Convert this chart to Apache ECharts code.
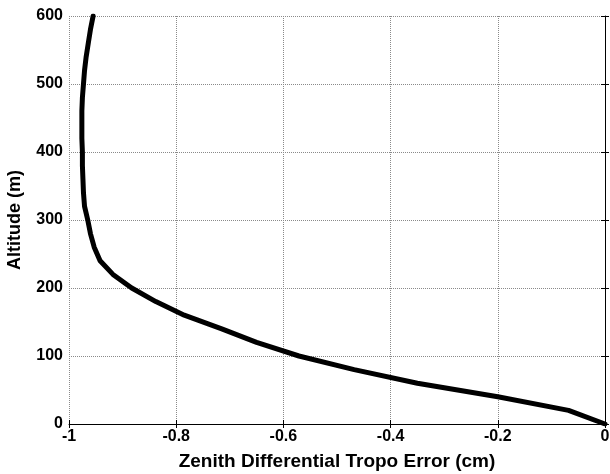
<!DOCTYPE html>
<html lang="en">
<head>
    <meta charset="utf-8">
    <title>Zenith Differential Tropo Error</title>
    <script type="text/javascript" src="https://cdn.jsdelivr.net/npm/echarts@6/dist/echarts.min.js"></script>
    <style>
        body { margin: 0; background: #fff; }
    </style>
</head>
<body>
<div id="main" style="width: 610px;height:474px;"></div>
<script>
    // altitude (m) and zenith differential tropo error (cm)
    var altitude = [0, 20, 40, 60, 80, 100, 120, 140, 160, 180, 200, 220, 240, 260, 280, 300,
        320, 340, 360, 380, 400, 420, 440, 460, 480, 500, 520, 540, 560, 580, 600];
    var tropoError = [0, -0.068, -0.2, -0.35, -0.468, -0.571, -0.65, -0.715, -0.785, -0.838, -0.883,
        -0.918, -0.942, -0.953, -0.96, -0.965, -0.971, -0.973, -0.974, -0.975, -0.975, -0.976,
        -0.976, -0.976, -0.975, -0.973, -0.971, -0.968, -0.964, -0.96, -0.955];
    var xTicks = [-1, -0.8, -0.6, -0.4, -0.2, 0];
    var yTicks = [0, 100, 200, 300, 400, 500, 600];

    var points = [];
    for (var i = 0; i < altitude.length; i++) {
        points.push([tropoError[i], altitude[i]]);
    }

    var font = 'Liberation Sans, Arial, sans-serif';
    var gridLine = { show: true, lineStyle: { color: '#8a8a8a', type: 'dotted', width: 1 } };

    var myChart = echarts.init(document.getElementById('main'));
    var option = {
        animation: false,
        grid: { left: 69, right: 5, top: 16, bottom: 50, containLabel: false, outerBoundsMode: 'none' },
        xAxis: [{
            type: 'value',
            min: xTicks[0], max: xTicks[xTicks.length - 1], interval: 0.2,
            name: 'Zenith Differential Tropo Error (cm)',
            nameLocation: 'middle', nameGap: 28,
            nameTextStyle: { fontFamily: font, fontWeight: 'bold', fontSize: 19, color: '#000' },
            axisLine: { show: true, lineStyle: { color: '#000', width: 1 } },
            axisTick: { show: true, inside: true, length: 4, lineStyle: { color: '#000' } },
            axisLabel: {
                fontFamily: font, fontWeight: 'bold', fontSize: 16, color: '#000', margin: 5,
                formatter: function (v) { return String(Math.round(v * 10) / 10); }
            },
            splitLine: gridLine
        }, {
            type: 'value', position: 'top',
            min: xTicks[0], max: xTicks[xTicks.length - 1], interval: 0.2,
            axisLine: { show: false },
            axisTick: { show: true, inside: true, length: 4, lineStyle: { color: '#000' } },
            axisLabel: { show: false },
            splitLine: { show: false }
        }],
        yAxis: [{
            type: 'value',
            min: yTicks[0], max: yTicks[yTicks.length - 1], interval: 100,
            name: 'Altitude (m)',
            nameLocation: 'middle', nameGap: 45,
            nameTextStyle: { fontFamily: font, fontWeight: 'bold', fontSize: 18, color: '#000' },
            axisLine: { show: true, lineStyle: { color: '#000', width: 1 } },
            axisTick: { show: true, inside: true, length: 4, lineStyle: { color: '#000' } },
            axisLabel: { fontFamily: font, fontWeight: 'bold', fontSize: 16, color: '#000', margin: 6 },
            splitLine: gridLine
        }, {
            type: 'value', position: 'right',
            min: yTicks[0], max: yTicks[yTicks.length - 1], interval: 100,
            axisLine: { show: false },
            axisTick: { show: true, inside: true, length: 4, lineStyle: { color: '#000' } },
            axisLabel: { show: false },
            splitLine: { show: false }
        }],
        series: [{
            type: 'line',
            data: points,
            showSymbol: false,
            smooth: false,
            lineStyle: { color: '#000', width: 5, join: 'round', cap: 'round' }
        }]
    };
    myChart.setOption(option);
</script>
</body>
</html>
